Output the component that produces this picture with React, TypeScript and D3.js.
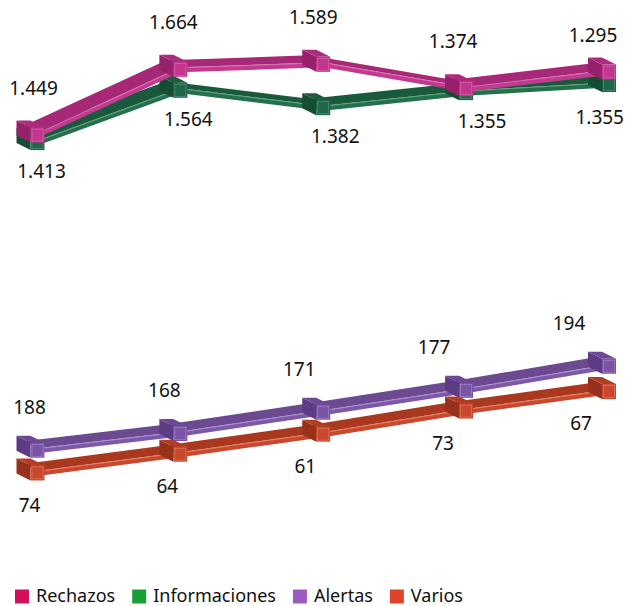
import React from "react";
import * as d3 from "d3";

// ---------- data ----------
const categories = ["P1", "P2", "P3", "P4", "P5"];
const rechazos = [1449, 1664, 1589, 1374, 1355];
const informaciones = [1413, 1564, 1382, 1355, 1295];
const alertas = [188, 168, 171, 177, 194];
const varios = [74, 64, 61, 73, 67];
const rechazosLabelSide = ["above", "above", "above", "above", "below"];
const informacionesLabelSide = ["below", "below", "below", "below", "above"];
const alertasLabelSide = ["above", "above", "above", "above", "above"];
const variosLabelSide = ["below", "below", "below", "below", "below"];
const seriesNames = ["Rechazos", "Informaciones", "Alertas", "Varios"];

// ---------- layout / style ----------
const W = 630;
const H = 606;
const FONT = "'Noto Sans', 'Open Sans', sans-serif";
const LABEL_SIZE = 19;
const BOX_W = 14;
const BOX_H = 15;
const DEPTH = { x: -14, y: -7 };
const RIB_TOP = -2;
const RIB_BOT = 3;

const x = d3.scalePoint<string>().domain(categories).range([37.5, 609]);
const slant = d3.scaleLinear().domain([0, categories.length - 1]).range([0, -82.8]);
const yTop = d3.scaleLinear().domain([1200, 1700]).range([187.2, 82.5]);
const yBottom = d3.scaleLinear().domain([0, 250]).range([487.7, 437.9]);

const fmt = d3
  .formatLocale({ decimal: ",", thousands: ".", grouping: [3], currency: ["", "€"] })
  .format(",d");

type Colors = {
  legend: string;
  front: string;
  top: string;
  side: string;
  ribTop: string;
  ribFront: string;
  hi: string;
};
type Off = { dx0: number; dxStep: number; dy: number };
type Series = {
  name: string;
  values: number[];
  sides: string[];
  y: d3.ScaleLinear<number, number>;
  c: Colors;
  lab: { above: Off; below: Off };
};

const seriesByName: Record<string, Series> = {
  Rechazos: {
    name: "Rechazos",
    values: rechazos,
    sides: rechazosLabelSide,
    y: yTop,
    c: { legend: "#d2105c", front: "#c2368e", top: "#ad2b7e", side: "#96206a", ribTop: "#a82878", ribFront: "#c13a8f", hi: "#e58cc4" },
    lab: { above: { dx0: -4, dxStep: -3, dy: -47 }, below: { dx0: -7, dxStep: 0, dy: 45 } },
  },
  Informaciones: {
    name: "Informaciones",
    values: informaciones,
    sides: informacionesLabelSide,
    y: yTop,
    c: { legend: "#18a037", front: "#20664a", top: "#1b5c3f", side: "#154d33", ribTop: "#1a5a3c", ribFront: "#24704b", hi: "#7fb89a" },
    lab: { above: { dx0: -4, dxStep: -3, dy: -49 }, below: { dx0: 4, dxStep: 4, dy: 29 } },
  },
  Alertas: {
    name: "Alertas",
    values: alertas,
    sides: alertasLabelSide,
    y: yBottom,
    c: { legend: "#9d5cbf", front: "#7a55a5", top: "#6c4895", side: "#5c3d84", ribTop: "#6b4a92", ribFront: "#7c58a8", hi: "#c8a8e6" },
    lab: { above: { dx0: -8, dxStep: -8, dy: -43 }, below: { dx0: -8, dxStep: -5, dy: 32 } },
  },
  Varios: {
    name: "Varios",
    values: varios,
    sides: variosLabelSide,
    y: yBottom,
    c: { legend: "#dd4527", front: "#c9482d", top: "#b23d23", side: "#98311b", ribTop: "#a9381f", ribFront: "#c9472c", hi: "#f0a08a" },
    lab: { above: { dx0: -8, dxStep: -8, dy: -43 }, below: { dx0: -8, dxStep: -5, dy: 32 } },
  },
};

// back to front drawing order
const drawOrder = ["Varios", "Alertas", "Informaciones", "Rechazos"];

type P = { x: number; y: number };
const pts = (arr: P[]) => arr.map((p) => `${p.x},${p.y}`).join(" ");

function project(s: Series): P[] {
  return s.values.map((v, i) => ({
    x: x(categories[i]) as number,
    y: s.y(v) + slant(i),
  }));
}

let ctxCache: CanvasRenderingContext2D | null = null;
function measure(text: string, size: number): number {
  try {
    if (!ctxCache) ctxCache = document.createElement("canvas").getContext("2d");
    if (ctxCache) {
      ctxCache.font = `${size}px 'Noto Sans'`;
      return ctxCache.measureText(text).width;
    }
  } catch (e) {}
  return text.length * size * 0.55;
}

function SeriesMarks({ s }: { s: Series }) {
  const p = project(s);
  const c = s.c;
  const ribbons = d3.pairs(p).map(([a, b], i) => {
    const topFace = [
      { x: a.x, y: a.y + RIB_TOP },
      { x: b.x, y: b.y + RIB_TOP },
      { x: b.x + DEPTH.x, y: b.y + RIB_TOP + DEPTH.y },
      { x: a.x + DEPTH.x, y: a.y + RIB_TOP + DEPTH.y },
    ];
    const frontFace = [
      { x: a.x, y: a.y + RIB_TOP },
      { x: b.x, y: b.y + RIB_TOP },
      { x: b.x, y: b.y + RIB_BOT },
      { x: a.x, y: a.y + RIB_BOT },
    ];
    return (
      <g key={`r${i}`}>
        <polygon points={pts(topFace)} fill={c.ribTop} />
        <polygon points={pts(frontFace)} fill={c.ribFront} />
        <line x1={a.x} y1={a.y + RIB_TOP + 0.5} x2={b.x} y2={b.y + RIB_TOP + 0.5} stroke={c.hi} strokeWidth={0.8} opacity={0.8} />
      </g>
    );
  });
  const boxes = p.map((q, i) => {
    const l = q.x - BOX_W / 2;
    const r = q.x + BOX_W / 2;
    const t = q.y - BOX_H / 2;
    const bt = q.y + BOX_H / 2;
    const top = [
      { x: l, y: t },
      { x: r, y: t },
      { x: r + DEPTH.x, y: t + DEPTH.y },
      { x: l + DEPTH.x, y: t + DEPTH.y },
    ];
    const side = [
      { x: l, y: t },
      { x: l, y: bt },
      { x: l + DEPTH.x, y: bt + DEPTH.y },
      { x: l + DEPTH.x, y: t + DEPTH.y },
    ];
    return (
      <g key={`b${i}`}>
        <polygon points={pts(side)} fill={c.side} />
        <polygon points={pts(top)} fill={c.top} />
        <rect x={l} y={t} width={BOX_W} height={BOX_H} fill={c.front} />
        <rect x={l + 1.5} y={t + 1.5} width={BOX_W - 3} height={BOX_H - 3} fill="none" stroke={c.hi} strokeWidth={0.6} opacity={0.6} />
      </g>
    );
  });
  return (
    <g>
      {ribbons}
      {boxes}
    </g>
  );
}

function SeriesLabels({ s }: { s: Series }) {
  const p = project(s);
  return (
    <g>
      {p.map((q, i) => {
        const o = s.sides[i] === "above" ? s.lab.above : s.lab.below;
        const txt = fmt(s.values[i]);
        const half = measure(txt, LABEL_SIZE) / 2;
        const lx = Math.max(half + 6, Math.min(W - half - 6, q.x + o.dx0 + o.dxStep * i));
        return (
          <text
            key={i}
            x={lx}
            y={q.y + o.dy}
            dy="0.35em"
            textAnchor="middle"
            fontFamily={FONT}
            fontSize={LABEL_SIZE}
            fill="#111111"
          >
            {txt}
          </text>
        );
      })}
    </g>
  );
}

function Legend() {
  const size = 18;
  const sq = 14;
  const gapText = 7;
  const gapItem = 17;
  let cx = 15;
  const items = seriesNames.map((n) => {
    const w = measure(n, size);
    const item = { name: n, x: cx, w };
    cx += sq + gapText + w + gapItem;
    return item;
  });
  return (
    <g>
      {items.map((it) => (
        <g key={it.name}>
          <rect x={it.x} y={589.5} width={sq} height={sq} fill={seriesByName[it.name].c.legend} />
          <text x={it.x + sq + gapText} y={601.5} fontFamily={FONT} fontSize={size} fill="#111111">
            {it.name}
          </text>
        </g>
      ))}
    </g>
  );
}

export default function App() {
  return (
    <svg
      width={W}
      height={H}
      viewBox={`0 0 ${W} ${H}`}
      style={{ position: "absolute", left: 0, top: 0, background: "#ffffff" }}
    >
      <rect width={W} height={H} fill="#ffffff" />
      {drawOrder.map((n) => (
        <SeriesMarks key={n} s={seriesByName[n]} />
      ))}
      {drawOrder.map((n) => (
        <SeriesLabels key={n} s={seriesByName[n]} />
      ))}
      <Legend />
    </svg>
  );
}
